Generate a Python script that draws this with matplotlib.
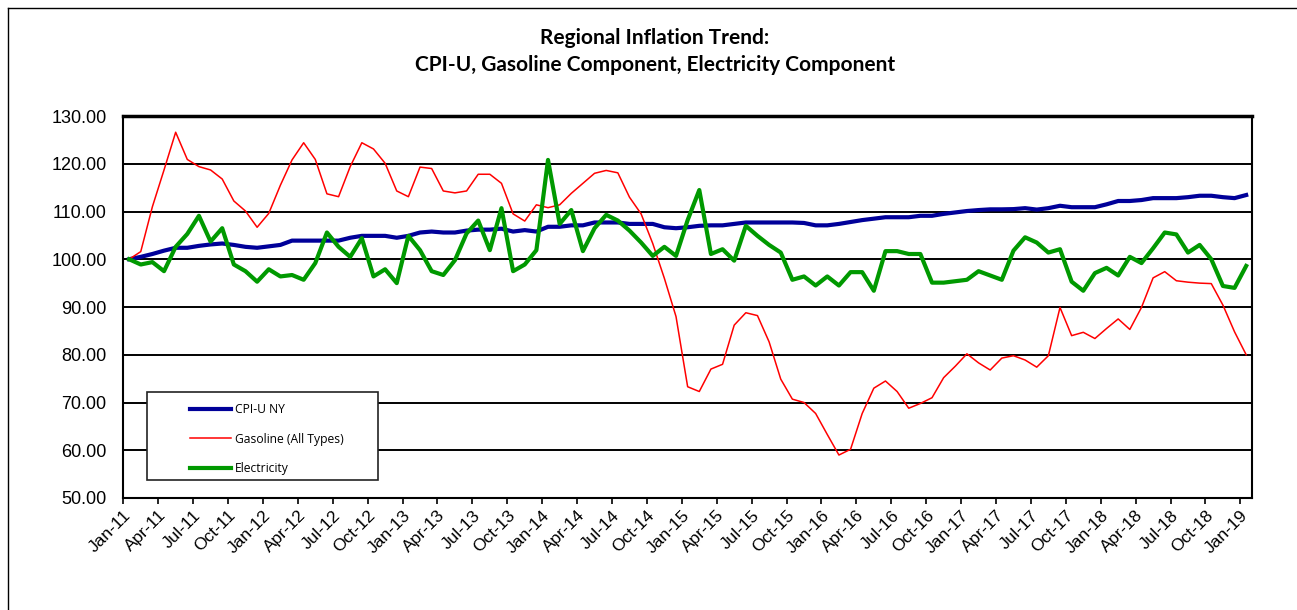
import matplotlib
matplotlib.use('Agg')
import matplotlib.pyplot as plt
from matplotlib.patches import Rectangle
from matplotlib.lines import Line2D
import numpy as np

### Datos mensuales Jan-11 .. Jan-19 (97 meses) ###
cpi_ny = [100.0, 100.5, 101.1, 101.8, 102.4, 102.4, 102.8, 103.1, 103.3, 103.0,
          102.6, 102.4, 102.7, 103.0, 103.9, 103.9, 103.9, 103.9, 103.9, 104.5,
          104.9, 104.9, 104.9, 104.5, 104.9, 105.6, 105.8, 105.6, 105.6, 106.0,
          106.2, 106.2, 106.4, 105.8, 106.1, 105.8, 106.8, 106.8, 107.1, 107.1,
          107.7, 107.7, 107.7, 107.4, 107.4, 107.4, 106.7, 106.5, 106.7, 107.0,
          107.1, 107.1, 107.4, 107.7, 107.7, 107.7, 107.7, 107.7, 107.6, 107.1,
          107.1, 107.4, 107.8, 108.2, 108.5, 108.8, 108.8, 108.8, 109.1, 109.1,
          109.5, 109.8, 110.1, 110.3, 110.45, 110.45, 110.5, 110.7, 110.4, 110.7,
          111.2, 110.9, 110.9, 110.9, 111.5, 112.2, 112.2, 112.4, 112.8, 112.8,
          112.8, 113.0, 113.3, 113.3, 113.0, 112.8, 113.45]

gasolina = [100.0, 101.6, 111.0, 118.7, 126.6, 120.9, 119.4, 118.7, 116.8, 112.2,
            110.1, 106.7, 109.6, 115.5, 120.8, 124.4, 120.9, 113.7, 113.1, 119.4,
            124.4, 123.1, 120.1, 114.3, 113.1, 119.3, 119.0, 114.3, 113.9, 114.3,
            117.8, 117.8, 115.9, 109.5, 108.0, 111.4, 110.8, 111.4, 113.8, 115.9,
            118.0, 118.6, 118.1, 113.0, 109.5, 103.3, 96.0, 88.0, 73.3, 72.3,
            77.0, 78.0, 86.2, 88.8, 88.2, 82.7, 74.9, 70.7, 70.0, 67.7,
            63.3, 59.0, 60.2, 67.7, 73.0, 74.5, 72.3, 68.8, 69.8, 71.0,
            75.2, 77.6, 80.2, 78.3, 76.8, 79.3, 79.8, 78.9, 77.4, 79.8,
            89.9, 84.0, 84.7, 83.4, 85.5, 87.5, 85.3, 89.9, 96.1, 97.4,
            95.5, 95.2, 95.0, 94.9, 90.4, 84.8, 80.0]

electricidad = [100.0, 98.9, 99.4, 97.5, 102.6, 105.3, 109.1, 103.7, 106.5, 98.9,
                97.5, 95.3, 97.9, 96.4, 96.7, 95.7, 99.2, 105.6, 102.6, 100.5,
                104.4, 96.4, 97.9, 95.0, 104.9, 101.9, 97.5, 96.7, 99.8, 105.4,
                108.1, 101.9, 110.7, 97.5, 98.9, 101.9, 120.8, 107.4, 110.3, 101.7,
                106.5, 109.3, 108.1, 106.0, 103.5, 100.7, 102.6, 100.7, 108.2, 114.5,
                101.1, 102.1, 99.7, 107.0, 104.9, 103.0, 101.4, 95.7, 96.4, 94.5,
                96.4, 94.5, 97.3, 97.3, 93.4, 101.7, 101.7, 101.1, 101.1, 95.1,
                95.1, 95.4, 95.7, 97.5, 96.6, 95.7, 101.8, 104.6, 103.5, 101.4,
                102.1, 95.3, 93.4, 97.1, 98.2, 96.6, 100.5, 99.2, 102.3, 105.6,
                105.2, 101.4, 103.0, 100.0, 94.4, 94.0, 98.6]

meses_tick = ['Jan', 'Apr', 'Jul', 'Oct']
anios = ['11', '12', '13', '14', '15', '16', '17', '18', '19']
etiquetas = [m + '-' + a for a in anios for m in meses_tick][:33]

x = np.arange(len(cpi_ny))

### Figura ###
fig = plt.figure(figsize=(12.97, 6.10), dpi=100)
ax = fig.add_axes([123.3/1297, 112/610, 1128.7/1297, 382/610])

ax.set_ylim(50, 130)
ax.set_xlim(-0.5, len(x) - 0.5)
ax.set_yticks(np.arange(50, 131, 10))
ax.set_yticklabels(['%.2f' % v for v in np.arange(50, 131, 10)],
                   fontname='Liberation Sans', fontsize=13)
ax.set_xticks(np.arange(0, 97, 3) - 0.5)
ax.set_xticklabels(etiquetas, rotation=45, ha='right', va='top',
                   rotation_mode='anchor', fontname='Liberation Sans', fontsize=12.5)
ax.tick_params(axis='y', length=0, pad=12)
ax.tick_params(axis='x', length=4, width=1.2, direction='out', pad=3)

ax.grid(True, axis='y', color='black', linewidth=1.4, zorder=1)
ax.set_axisbelow(True)
for s in ['left', 'bottom', 'right']:
    ax.spines[s].set_linewidth(1.5)
ax.spines['top'].set_linewidth(2.5)

l1, = ax.plot(x, cpi_ny, color='#000099', linewidth=3, label='CPI-U NY', zorder=3)
l2, = ax.plot(x, gasolina, color='#ff0000', linewidth=1.1, label='Gasoline (All Types)', zorder=3)
l3, = ax.plot(x, electricidad, color='#009900', linewidth=3, label='Electricity', zorder=3)

### Leyenda ###
caja = Rectangle((0.0213, 0.0471), 0.2046, 0.2296, transform=ax.transAxes,
                 facecolor='white', edgecolor='#222222', linewidth=1.2, zorder=4)
ax.add_patch(caja)
leg = ax.legend(loc='upper left', bbox_to_anchor=(0.0591, 0.2487), frameon=False,
                borderpad=0, borderaxespad=0, handlelength=3.4, handletextpad=0.35,
                labelspacing=1.38, prop={'family': 'Open Sans', 'size': 8.7})
leg.set_zorder(5)

### Titulo ###
fig.text(655/1297, 1 - 38/610, 'Regional Inflation Trend:', ha='center', va='center',
         fontname='Lato', fontweight='bold', fontsize=15)
fig.text(655/1297, 1 - 65/610, 'CPI-U, Gasoline Component, Electricity Component',
         ha='center', va='center', fontname='Lato', fontweight='bold', fontsize=15)

### Marco exterior ###
fig.add_artist(Line2D([8/1297, 8/1297], [0, 1 - 8/610], color='black', linewidth=1))
fig.add_artist(Line2D([8/1297, 1], [1 - 8/610, 1 - 8/610], color='black', linewidth=1))

fig.savefig('out.png', dpi=100)
